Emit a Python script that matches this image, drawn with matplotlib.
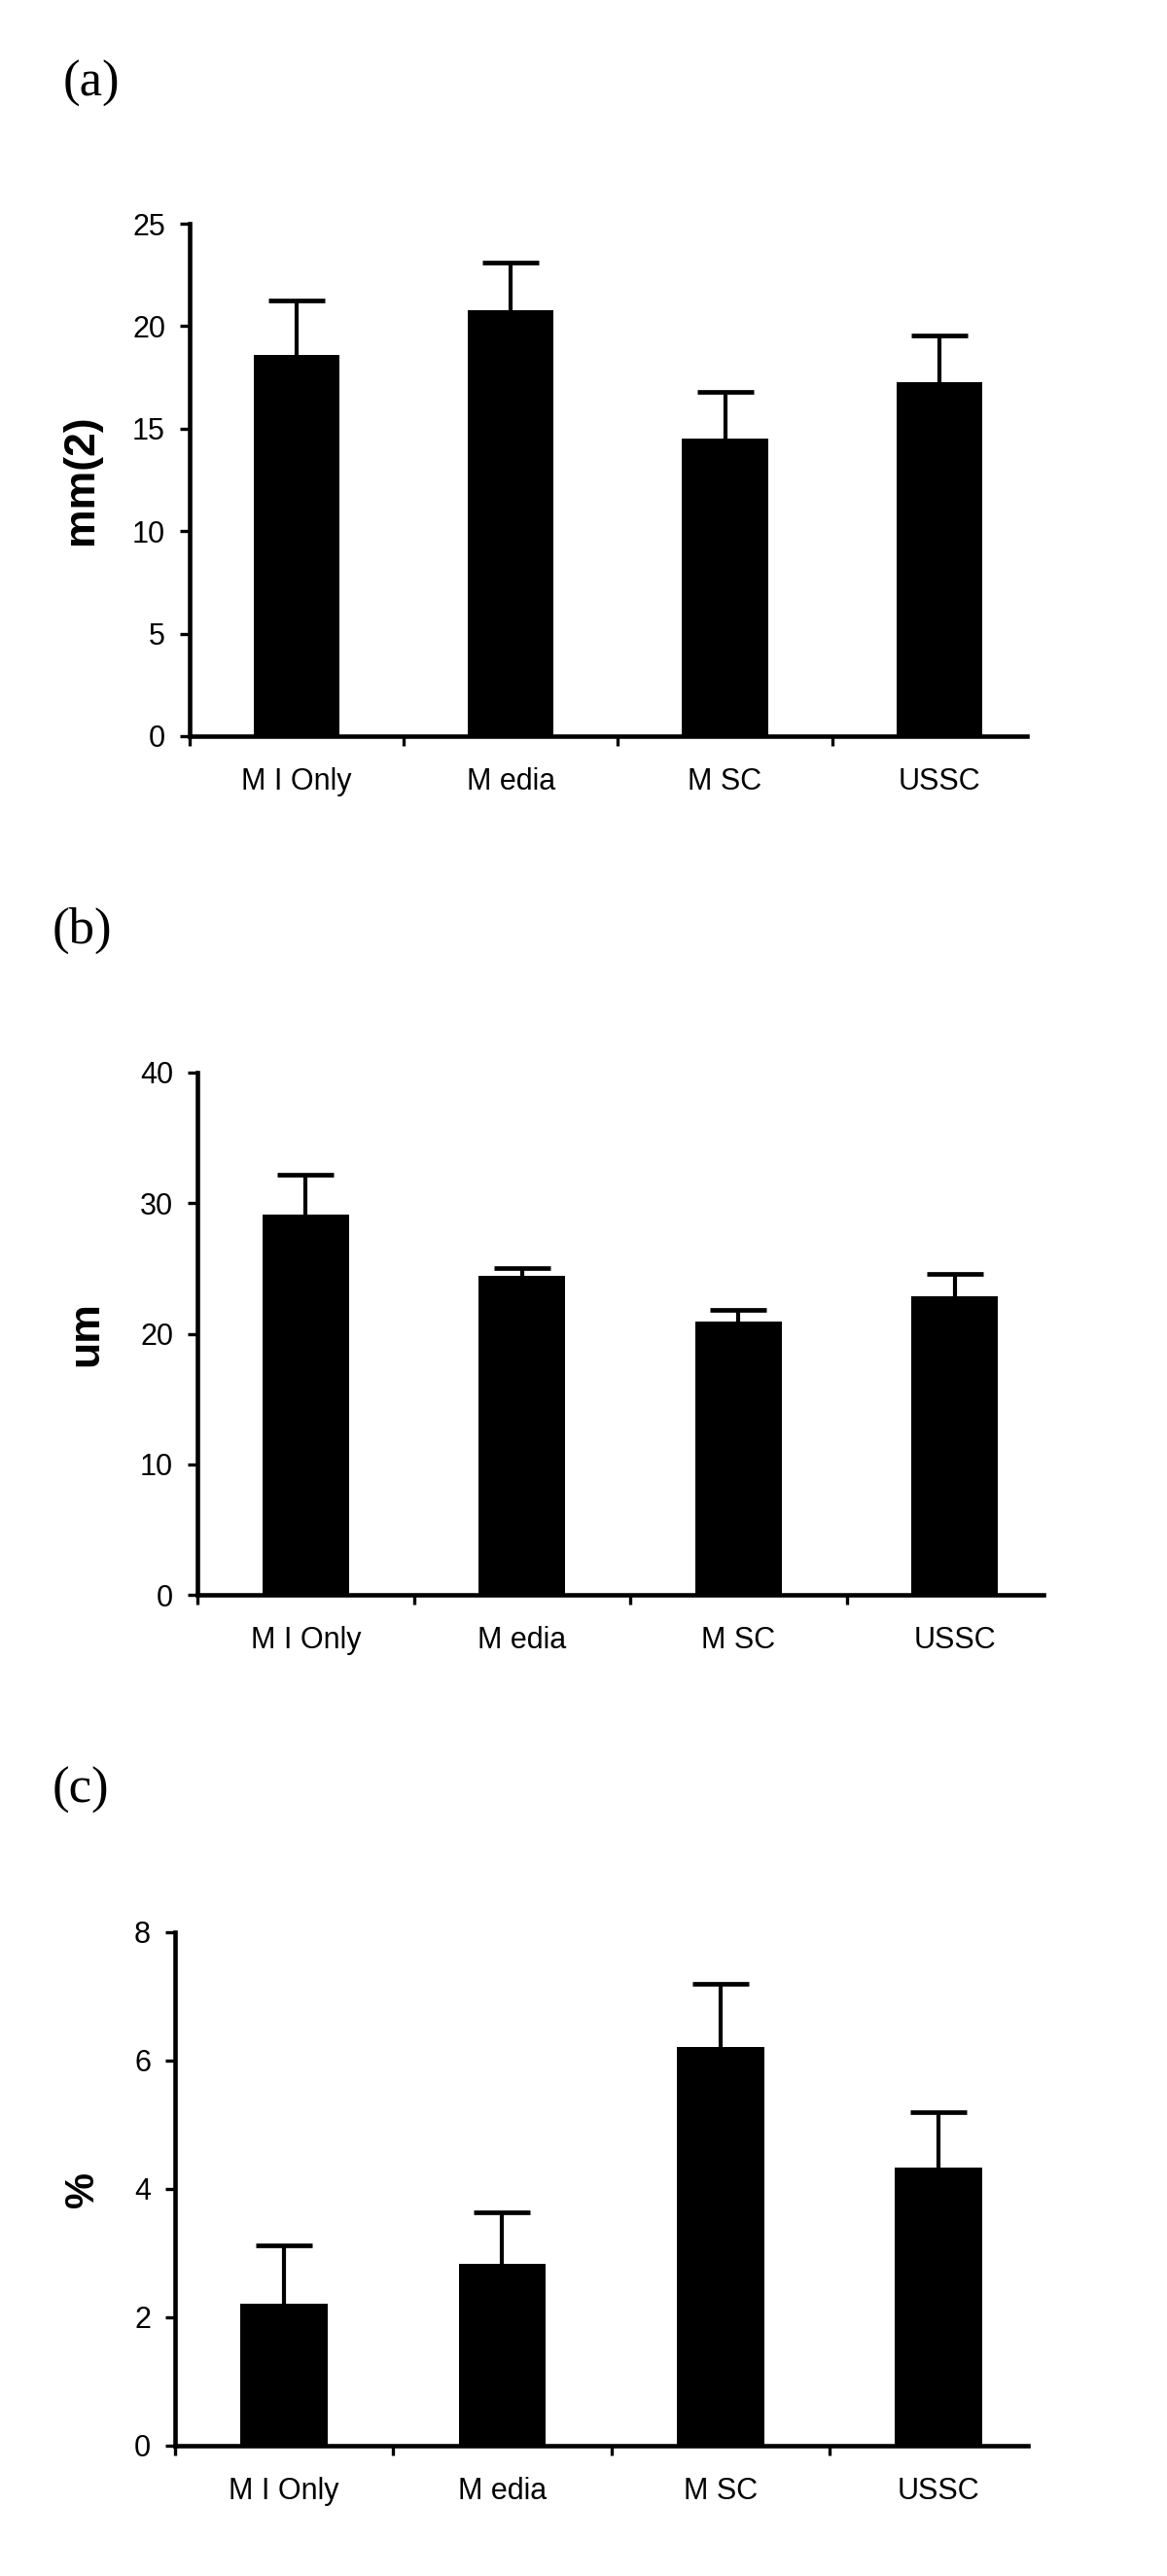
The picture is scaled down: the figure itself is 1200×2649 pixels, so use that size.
import matplotlib
matplotlib.use("Agg")
import matplotlib.pyplot as plt
import numpy as np

groups = ["M I Only", "M edia", "M SC", "USSC"]

# (a) area, mm(2)
area_mean = [18.6, 20.8, 14.5, 17.25]
area_err = [2.65, 2.3, 2.3, 2.3]

# (b) thickness, um
thick_mean = [29.1, 24.4, 20.95, 22.85]
thick_err = [3.05, 0.6, 0.85, 1.75]

# (c) percent
pct_mean = [2.21, 2.83, 6.21, 4.34]
pct_err = [0.91, 0.80, 0.98, 0.86]

panels = [
    ("(a)", "mm(2)", area_mean, area_err, [0, 5, 10, 15, 20, 25], 32),
    ("(b)", "um", thick_mean, thick_err, [0, 10, 20, 30, 40], 32),
    ("(c)", "%", pct_mean, pct_err, [0, 2, 4, 6, 8], 30),
]

# axes boxes in pixels: left, right, top, bottom
boxes = [(195, 1056, 230, 757), (203, 1073, 1103, 1640), (180, 1057, 1987, 2515)]
tag_pos = [(65, 86), (54, 957), (54, 1841)]
ylab_x = [95, 100, 96]

W, H = 1200, 2649
plt.rcParams["font.family"] = ["Liberation Sans", "DejaVu Sans"]
fig = plt.figure(figsize=(W / 100, H / 100), dpi=100)

for i, (tag, ylab, mean, err, yticks, ysize) in enumerate(panels):
    l, r, t, b = boxes[i]
    ax = fig.add_axes([l / W, 1 - b / H, (r - l) / W, (b - t) / H])
    x = np.arange(len(groups)) + 0.5
    ax.bar(x, mean, width=0.4, color="black", linewidth=0, zorder=2)
    eb = ax.errorbar(x, mean, yerr=[np.zeros(len(mean)), err], fmt="none",
                     ecolor="black", elinewidth=3, capsize=21, capthick=3.4, zorder=1)
    # only the upper cap is shown
    eb[1][0].set_visible(False)
    ax.set_xlim(0, 3.91)
    ax.set_ylim(yticks[0], yticks[-1])
    ax.set_yticks(yticks)
    ax.set_xticks(x)
    ax.set_xticklabels(groups, fontsize=22)
    ax.set_xticks(np.arange(4), minor=True)
    ax.tick_params(axis="x", which="major", length=0, pad=23)
    ax.tick_params(axis="x", which="minor", length=7, width=2.4, direction="out")
    ax.tick_params(axis="y", length=7, width=2.4, direction="out", pad=11, labelsize=22)
    for s in ["top", "right"]:
        ax.spines[s].set_visible(False)
    for s in ["left", "bottom"]:
        ax.spines[s].set_linewidth(3.3)
    ax.set_facecolor("none")

    cy = 1 - (t + b) / 2 / H
    fig.text(ylab_x[i] / W, cy, ylab, rotation=90, rotation_mode="anchor",
             ha="center", va="baseline", fontsize=ysize, fontweight="bold")
    fig.text(tag_pos[i][0] / W, 1 - tag_pos[i][1] / H, tag, ha="left", va="center",
             fontsize=38, family=["Liberation Serif", "DejaVu Serif"])

fig.savefig("out.png", dpi=100)
